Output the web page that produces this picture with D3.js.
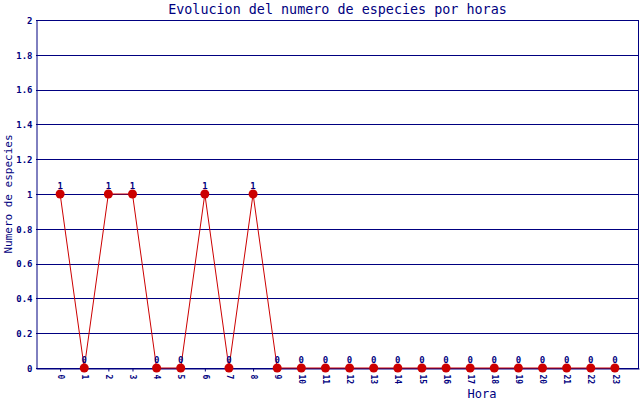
<!DOCTYPE html>
<html>
<head>
<meta charset="utf-8">
<script src="https://cdn.jsdelivr.net/npm/d3@7"></script>
<style>
  body { margin: 0; background: #fff; }
  svg { display: block; }
  text { font-family: "DejaVu Sans Mono", monospace; fill: #000080; }
</style>
</head>
<body>
<script>
// hours on the x axis and number of species per hour
var horas = ["0", "1", "2", "3", "4", "5", "6", "7", "8", "9", "10", "11",
             "12", "13", "14", "15", "16", "17", "18", "19", "20", "21", "22", "23"];
var especies = [1, 0, 1, 1, 0, 0, 1, 0, 1, 0, 0, 0, 0, 0, 0, 0, 0, 0, 0, 0, 0, 0, 0, 0];
var yTicks = [0, 0.2, 0.4, 0.6, 0.8, 1, 1.2, 1.4, 1.6, 1.8, 2];

var width = 640;
var height = 400;
var margin = {top: 20, right: 1, bottom: 32, left: 36};
var navy = "#000080";
var red = "#cc0000";

var svg = d3.select("body")
            .append("svg")
            .attr("width", width)
            .attr("height", height);

// x is linear with one empty slot on each side
var xScale = d3.scaleLinear()
               .domain([-1, horas.length])
               .range([margin.left, width - margin.right]);

var yScale = d3.scaleLinear()
               .domain([0, 2])
               .range([height - margin.bottom, margin.top]);

// horizontal grid lines
svg.append("g")
   .selectAll("line")
   .data(yTicks)
   .enter()
   .append("line")
   .attr("x1", margin.left)
   .attr("x2", width - margin.right)
   .attr("y1", function(d) { return Math.round(yScale(d)) + 0.5; })
   .attr("y2", function(d) { return Math.round(yScale(d)) + 0.5; })
   .attr("stroke", navy)
   .attr("stroke-width", 1);

// right border
svg.append("line")
   .attr("x1", width - margin.right - 0.5)
   .attr("x2", width - margin.right - 0.5)
   .attr("y1", margin.top)
   .attr("y2", height - margin.bottom)
   .attr("stroke", navy);

// y axis
var yAxis = d3.axisLeft(yScale)
              .tickValues(yTicks)
              .tickSize(0)
              .tickPadding(4)
              .tickFormat(function(d) { return d3.format("")(+d.toFixed(1)); });

var gy = svg.append("g")
            .attr("transform", "translate(" + (margin.left + 0.5) + ",0.5)")
            .call(yAxis);
gy.select(".domain").attr("stroke", navy);
gy.selectAll("text")
  .style("font-size", "9px")
  .style("font-weight", "bold")
  .attr("fill", navy);

// x axis
var xAxis = d3.axisBottom(xScale)
              .tickValues(d3.range(horas.length))
              .tickSize(3)
              .tickSizeOuter(0)
              .tickFormat(function(d) { return horas[d]; });

var gx = svg.append("g")
            .attr("transform", "translate(0," + (Math.round(yScale(0)) + 0.5) + ")")
            .call(xAxis);
gx.select(".domain").attr("stroke", navy);
gx.selectAll(".tick line").attr("stroke", navy);
gx.selectAll("text")
  .style("font-size", "8px")
  .style("font-weight", "bold")
  .attr("fill", navy)
  .attr("transform", "rotate(90)")
  .attr("text-anchor", "start")
  .attr("x", 6)
  .attr("y", 0)
  .attr("dy", "0.35em");

// line of the series
var line = d3.line()
             .x(function(d, i) { return xScale(i); })
             .y(function(d) { return yScale(d); });

svg.append("path")
   .datum(especies)
   .attr("d", line)
   .attr("fill", "none")
   .attr("stroke", red)
   .attr("stroke-width", 1);

// markers
svg.append("g")
   .selectAll("circle")
   .data(especies)
   .enter()
   .append("circle")
   .attr("cx", function(d, i) { return xScale(i); })
   .attr("cy", function(d) { return yScale(d); })
   .attr("r", 4.5)
   .attr("fill", red);

// value labels above the points
svg.append("g")
   .selectAll("text")
   .data(especies)
   .enter()
   .append("text")
   .attr("x", function(d, i) { return xScale(i); })
   .attr("y", function(d) { return yScale(d) - 5; })
   .attr("text-anchor", "middle")
   .style("font-size", "9px")
   .style("font-weight", "bold")
   .text(function(d) { return d; });

// title
svg.append("text")
   .attr("x", (margin.left + width - margin.right) / 2)
   .attr("y", 14)
   .attr("text-anchor", "middle")
   .style("font-size", "13.4px")
   .text("Evolucion del numero de especies por horas");

// axis titles
svg.append("text")
   .attr("text-anchor", "middle")
   .attr("transform", "translate(12," + ((margin.top + height - margin.bottom) / 2) + ")rotate(-90)")
   .style("font-size", "11px")
   .text("Numero de especies");

svg.append("text")
   .attr("x", 482)
   .attr("y", 398)
   .attr("text-anchor", "middle")
   .style("font-size", "12px")
   .text("Hora");
</script>
</body>
</html>
